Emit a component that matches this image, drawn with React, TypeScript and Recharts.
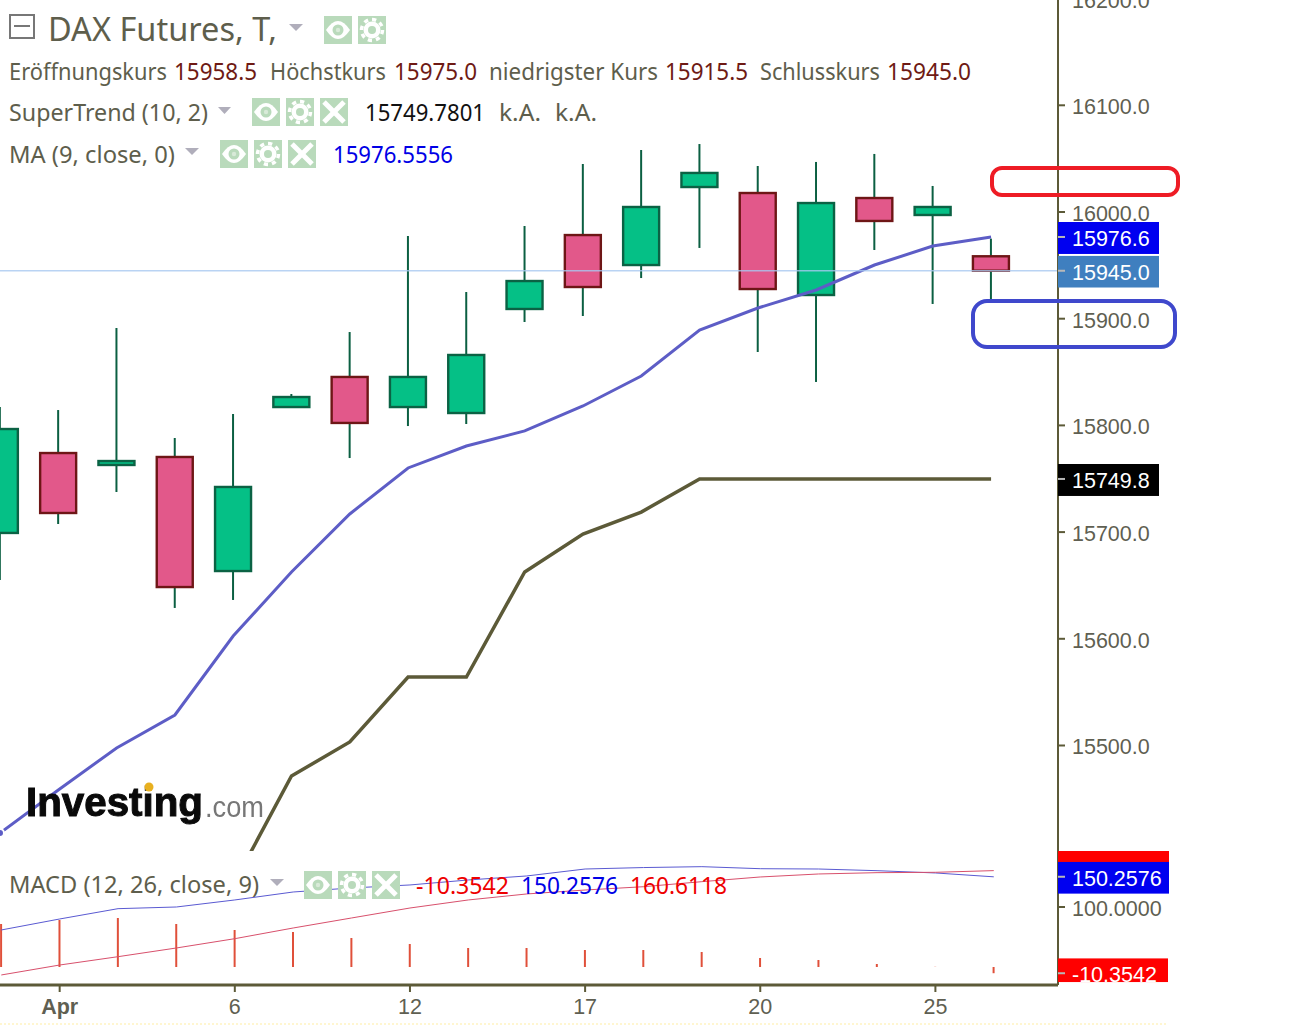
import React from "react";
import { ComposedChart, Bar, Line, XAxis, YAxis, ReferenceLine, ReferenceDot } from "recharts";

const indices = [0, 1, 2, 3, 4, 5, 6, 7, 8, 9, 10, 11, 12, 13, 14, 15, 16, 17];
const opens = [15699.2, 15774.1, 15762.9, 15770.4, 15663.5, 15817.2, 15845.4, 15817.2, 15811.6, 15909.1, 15978.4, 15950.3, 16023.4, 16017.8, 15922.2, 16013.1, 15997.2, 15958.5];
const closes = [15796.6, 15717.9, 15766.6, 15648.5, 15742.3, 15826.6, 15802.3, 15845.4, 15866.0, 15935.3, 15929.7, 16004.7, 16036.6, 15927.8, 16008.4, 15991.6, 16004.7, 15945.0];
const highs = [15817.2, 15814.4, 15891.3, 15788.2, 15810.7, 15829.4, 15887.5, 15977.5, 15925.0, 15986.9, 16045.0, 16058.1, 16063.7, 16043.1, 16046.9, 16054.4, 16024.4, 15975.0];
const lows = [15655.1, 15707.6, 15737.6, 15628.9, 15636.4, 15816.3, 15769.4, 15799.4, 15801.3, 15896.9, 15902.5, 15938.1, 15966.3, 15868.8, 15840.7, 15964.4, 15913.8, 15915.5];
const maValues = [15418.0, 15458.3, 15497.7, 15528.6, 15602.6, 15662.6, 15717.0, 15760.1, 15780.7, 15794.8, 15818.2, 15846.3, 15889.4, 15910.0, 15926.9, 15950.3, 15968.1, 15976.6];
const superTrend = [null, null, null, null, 15369.3, 15471.4, 15503.3, 15564.2, 15564.2, 15662.6, 15698.2, 15718.8, 15749.8, 15749.8, 15749.8, 15749.8, 15749.8, 15749.8];
const histogram = [71.7, 78.3, 81.7, 71.7, 61.7, 58.3, 48.3, 38.3, 31.7, 31.7, 28.3, 28.3, 25.0, 15.0, 11.7, 5.0, 0.3, -10.35];
const macdLine = [61.7, 80.0, 97.2, 100.0, 111.7, 125.0, 131.7, 136.7, 145.0, 151.7, 163.3, 165.7, 167.2, 163.8, 163.3, 160.5, 156.7, 150.26];
const signalLine = [-13.3, 3.3, 17.2, 31.7, 47.2, 65.0, 81.7, 98.3, 111.7, 121.7, 128.3, 133.8, 142.2, 150.0, 155.0, 157.2, 157.8, 160.61];

const priceTicks = [15500, 15600, 15700, 15800, 15900, 16000, 16100, 16200];
const macdTicks = [100];
const timeTicks = [1, 4, 7, 10, 13, 16];
const timeLabels: Record<number, string> = { 1: "Apr", 4: "6", 7: "12", 10: "17", 13: "20", 16: "25" };

const priceRows = indices.map((i) => ({
  i,
  open: opens[i],
  close: closes[i],
  high: highs[i],
  low: lows[i],
  ma: maValues[i],
  st: superTrend[i],
}));
const macdRows = indices.map((i) => ({ i, hist: histogram[i], macd: macdLine[i], signal: signalLine[i] }));

const OLIVE = "#5c5a38";
const GREY = "#5f5f52";
const FONT = "'Liberation Sans', Arial, sans-serif";
const LEG = "'Noto Sans', sans-serif";
const PRICE_X_MAX = 18.148;
const MACD_X_MAX = 18.1;

function Candle(props: any) {
  const { x, y, width, height, payload } = props;
  const { open, close, high, low } = payload;
  const k = Math.abs(height) / (high - low);
  const cx = x + width / 2;
  const top = y + (high - Math.max(open, close)) * k;
  const h = Math.max(Math.abs(open - close) * k, 1);
  const up = close >= open;
  return (
    <g>
      <line x1={cx} x2={cx} y1={y} y2={y + Math.abs(height)} stroke="#0b5f42" strokeWidth={2} />
      <rect x={x} y={top} width={width} height={h} fill={up ? "#05c086" : "#e2588a"} stroke={up ? "#0b6244" : "#6e1616"} strokeWidth={2.4} />
    </g>
  );
}

function tag(text: string, fill: string, w: number, clipTop: number, clipBottom: number) {
  return (props: any) => {
    const { cx, cy } = props;
    const yTop = cy + clipTop;
    const hh = clipBottom - clipTop;
    return (
      <svg x={cx} y={yTop} width={w} height={hh} overflow="hidden">
        <rect x={0} y={0} width={w} height={hh} fill={fill} />
        <line x1={0} x2={7} y1={-clipTop} y2={-clipTop} stroke="#b8b8b8" strokeWidth={2} />
        <text x={14} y={-clipTop + 9} fill="#fff" fontFamily={FONT} fontSize={21.5}>{text}</text>
      </svg>
    );
  };
}

function TimeTick(props: any) {
  const { x, y, payload } = props;
  const label = timeLabels[payload.value] ?? "";
  return (
    <text x={x} y={y + 20} textAnchor="middle" fontFamily={FONT} fontSize={21.5} fontWeight={label === "Apr" ? 700 : 400} fill={GREY}>
      {label}
    </text>
  );
}

function ValueTick(props: any) {
  const { x, y, payload, digits } = props;
  return (
    <text x={x} y={y + 9} fontFamily={FONT} fontSize={21.5} fill={GREY}>
      {payload.value.toFixed(digits)}
    </text>
  );
}

const ICON_BG = "#b9dabb";

function IconBox({ x, y, kind }: { x: number; y: number; kind: "eye" | "gear" | "x" }) {
  const cx = x + 14;
  const cy = y + 14;
  return (
    <g>
      <rect x={x} y={y} width={28} height={28} fill={ICON_BG} />
      {kind === "eye" && (
        <g>
          <path d={`M${x + 2} ${cy}Q${cx} ${y - 4} ${x + 26} ${cy}Q${cx} ${y + 32} ${x + 2} ${cy}Z`} fill="#fff" />
          <circle cx={cx} cy={cy} r={5.5} fill={ICON_BG} />
          <circle cx={cx} cy={cy} r={2.2} fill="#d8ead8" />
        </g>
      )}
      {kind === "gear" && (
        <g>
          <circle cx={cx} cy={cy} r={8.5} fill="#fff" />
          <circle cx={cx} cy={cy} r={10.5} fill="none" stroke="#fff" strokeWidth={3.5} strokeDasharray="4.2 4" />
          <circle cx={cx} cy={cy} r={4} fill={ICON_BG} />
        </g>
      )}
      {kind === "x" && (
        <g stroke="#fff" strokeWidth={5}>
          <line x1={x + 4} y1={y + 4} x2={x + 24} y2={y + 24} />
          <line x1={x + 24} y1={y + 4} x2={x + 4} y2={y + 24} />
        </g>
      )}
    </g>
  );
}

function Tri({ x, y, w }: { x: number; y: number; w: number }) {
  return <path d={`M${x} ${y}L${x + w} ${y}L${x + w / 2} ${y + 7}Z`} fill="#b0aebb" />;
}

function T({ x, y, w, c, s, children }: { x: number; y: number; w: number; c: string; s?: number; children: string }) {
  return (
    <text x={x} y={y} fill={c} fontFamily={LEG} fontSize={s ?? 23} dominantBaseline="central" textLength={w} lengthAdjust="spacingAndGlyphs">
      {children}
    </text>
  );
}

const LABEL = "#5e5e4c";
const DARKRED = "#6e1a14";

function Overlay() {
  return (
    <svg width={1301} height={1026} style={{ position: "absolute", left: 0, top: 0, pointerEvents: "none" }}>
      <rect x={10} y={15} width={24} height={23} fill="none" stroke="#777" strokeWidth={2} />
      <line x1={14} x2={30} y1={26} y2={26} stroke="#777" strokeWidth={2} />
      <T x={48} y={28} w={229} c={LABEL} s={33}>DAX Futures, T,</T>
      <Tri x={289} y={24} w={14} />
      <IconBox x={324} y={16} kind="eye" />
      <IconBox x={358} y={16} kind="gear" />

      <T x={9} y={71} w={158} c={LABEL}>Eröffnungskurs</T>
      <T x={174} y={71} w={83} c={DARKRED}>15958.5</T>
      <T x={270} y={71} w={116} c={LABEL}>Höchstkurs</T>
      <T x={394} y={71} w={83} c={DARKRED}>15975.0</T>
      <T x={489} y={71} w={169} c={LABEL}>niedrigster Kurs</T>
      <T x={665} y={71} w={83} c={DARKRED}>15915.5</T>
      <T x={760} y={71} w={120} c={LABEL}>Schlusskurs</T>
      <T x={887} y={71} w={84} c={DARKRED}>15945.0</T>

      <T x={9} y={112} w={199} c={LABEL}>SuperTrend (10, 2)</T>
      <Tri x={218} y={107} w={13} />
      <IconBox x={252} y={98} kind="eye" />
      <IconBox x={286} y={98} kind="gear" />
      <IconBox x={320} y={98} kind="x" />
      <T x={365} y={112} w={120} c="#111">15749.7801</T>
      <T x={499} y={112} w={42} c={LABEL}>k.A.</T>
      <T x={555} y={112} w={42} c={LABEL}>k.A.</T>

      <T x={9} y={154} w={166} c={LABEL}>MA (9, close, 0)</T>
      <Tri x={185} y={148} w={14} />
      <IconBox x={220} y={140} kind="eye" />
      <IconBox x={254} y={140} kind="gear" />
      <IconBox x={288} y={140} kind="x" />
      <T x={333} y={154} w={120} c="#0000e6">15976.5556</T>

      <T x={9} y={884} w={250} c={LABEL}>MACD (12, 26, close, 9)</T>
      <Tri x={270} y={879} w={14} />
      <IconBox x={304} y={871} kind="eye" />
      <IconBox x={338} y={871} kind="gear" />
      <IconBox x={372} y={871} kind="x" />
      <T x={416} y={885} w={93} c="#ee0000">-10.3542</T>
      <T x={521} y={885} w={97} c="#0000e6">150.2576</T>
      <T x={630} y={885} w={97} c="#ee0000">160.6118</T>

      <rect x={992} y={168} width={186} height={27} rx={10} fill="none" stroke="#ee1c25" strokeWidth={4} />
      <rect x={973} y={301} width={202} height={46} rx={14} fill="none" stroke="#3f48cc" strokeWidth={4} />

      <g style={{ filter: "blur(0.7px)" }}>
        <text x={26} y={816} fontFamily={FONT} fontWeight={700} fontSize={40} fill="#0a0a0a" stroke="#0a0a0a" strokeWidth={1} textLength={177} lengthAdjust="spacingAndGlyphs">Investing</text>
        <text x={205} y={817} fontFamily={FONT} fontSize={30} fill="#777" textLength={59} lengthAdjust="spacingAndGlyphs">.com</text>
        <circle cx={149} cy={787} r={4.5} fill="#e8b020" />
      </g>
      <line x1={0} x2={1168} y1={1024} y2={1024} stroke="#fff6d0" strokeWidth={2} strokeDasharray="2 2" />
    </svg>
  );
}

export default function App() {
  return (
    <div style={{ position: "absolute", left: 0, top: 0, width: 1301, height: 1026, overflow: "hidden", background: "#fff" }}>
      <div style={{ position: "absolute", left: 0, top: -20 }}>
        <ComposedChart width={1301} height={873} data={priceRows} margin={{ top: 0, right: 0, bottom: 2, left: 0 }}>
          <XAxis dataKey="i" type="number" domain={[0, PRICE_X_MAX]} allowDataOverflow ticks={[]} tick={false} tickLine={false} height={0} axisLine={{ stroke: OLIVE, strokeWidth: 3 }} />
          <YAxis
            orientation="right"
            width={243}
            type="number"
            domain={[15401.12, 16217.43]}
            allowDataOverflow
            ticks={priceTicks}
            tickSize={7}
            tickMargin={7}
            axisLine={{ stroke: OLIVE, strokeWidth: 2 }}
            tickLine={{ stroke: OLIVE, strokeWidth: 2 }}
            tick={<ValueTick digits={1} />}
          />
          <Line dataKey="st" stroke={OLIVE} strokeWidth={3.5} dot={false} isAnimationActive={false} />
          <Line dataKey="ma" stroke="#5d5dc6" strokeWidth={3} dot={false} isAnimationActive={false} />
          <Bar dataKey={(d: any) => [d.low, d.high]} barSize={36} shape={<Candle />} isAnimationActive={false} />
          <ReferenceLine y={15945} stroke="#a8c8f0" strokeWidth={1.5} strokeOpacity={0.8} />
          <ReferenceDot x={PRICE_X_MAX} y={15976.6} ifOverflow="visible" shape={tag("15976.6", "#0000f0", 101, -15, 17)} />
          <ReferenceDot x={PRICE_X_MAX} y={15945} ifOverflow="visible" shape={tag("15945.0", "#3f7fbf", 101, -15, 17)} />
          <ReferenceDot x={PRICE_X_MAX} y={15749.8} ifOverflow="visible" shape={tag("15749.8", "#000000", 101, -15, 17)} />
        </ComposedChart>
      </div>
      <div style={{ position: "absolute", left: 0, top: 851 }}>
        <ComposedChart width={1301} height={172} data={macdRows} margin={{ top: 0, right: 0, bottom: 0, left: 0 }}>
          <XAxis
            dataKey="i"
            type="number"
            domain={[-0.022, MACD_X_MAX]}
            allowDataOverflow
            ticks={timeTicks}
            height={38}
            tickSize={7}
            axisLine={{ stroke: OLIVE, strokeWidth: 3 }}
            tickLine={{ stroke: OLIVE, strokeWidth: 2 }}
            tick={<TimeTick />}
          />
          <YAxis
            orientation="right"
            width={243}
            type="number"
            domain={[-30, 193.3]}
            allowDataOverflow
            ticks={macdTicks}
            tickSize={7}
            tickMargin={7}
            axisLine={{ stroke: OLIVE, strokeWidth: 2 }}
            tickLine={{ stroke: OLIVE, strokeWidth: 2 }}
            tick={<ValueTick digits={4} />}
          />
          <Bar dataKey="hist" barSize={2} fill="#e0503a" isAnimationActive={false} />
          <Line dataKey="macd" stroke="#5a5ad2" strokeWidth={1} dot={false} isAnimationActive={false} />
          <Line dataKey="signal" stroke="#d8506c" strokeWidth={1} dot={false} isAnimationActive={false} />
          <ReferenceDot x={MACD_X_MAX} y={160.61} ifOverflow="visible" shape={tag("160.6118", "#ff0000", 111, -20, 11)} />
          <ReferenceDot x={MACD_X_MAX} y={150.26} ifOverflow="visible" shape={tag("150.2576", "#0000f0", 111, -15, 17)} />
          <ReferenceDot x={MACD_X_MAX} y={-10.35} ifOverflow="visible" shape={tag("-10.3542", "#ff0000", 110, -15, 9)} />
        </ComposedChart>
      </div>
      <Overlay />
    </div>
  );
}
